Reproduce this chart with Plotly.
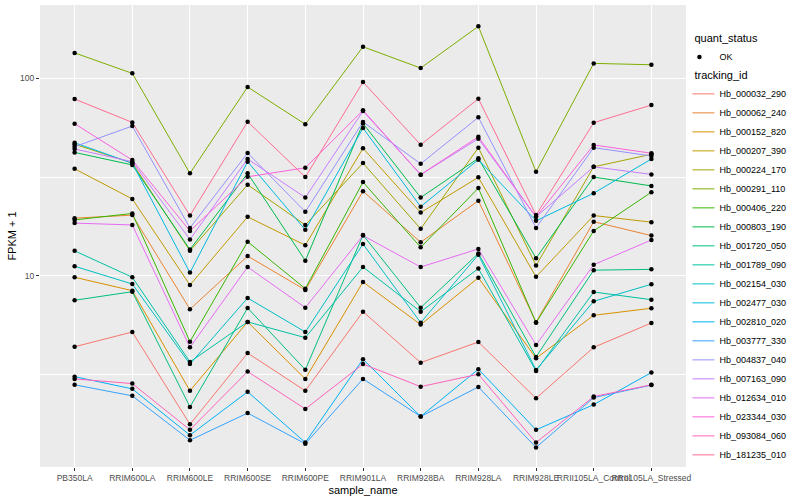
import plotly.graph_objects as go

samples = ["PB350LA", "RRIM600LA", "RRIM600LE", "RRIM600SE", "RRIM600PE", "RRIM901LA",
           "RRIM928BA", "RRIM928LA", "RRIM928LE", "RRII105LA_Control", "RRII105LA_Stressed"]

tracking_ids = ["Hb_000032_290", "Hb_000062_240", "Hb_000152_820", "Hb_000207_390", "Hb_000224_170",
                "Hb_000291_110", "Hb_000406_220", "Hb_000803_190", "Hb_001720_050", "Hb_001789_090",
                "Hb_002154_030", "Hb_002477_030", "Hb_002810_020", "Hb_003777_330", "Hb_004837_040",
                "Hb_007163_090", "Hb_012634_010", "Hb_023344_030", "Hb_093084_060", "Hb_181235_010"]

hb_000032_290 = [4.39, 5.21, 1.78, 4.08, 2.63, 6.60, 3.65, 4.64, 2.41, 4.36, 5.79]
hb_000062_240 = [19.6, 20.3, 6.79, 12.6, 8.50, 26.8, 14.8, 24.0, 5.84, 18.8, 16.0]
hb_000152_820 = [9.85, 8.43, 2.63, 5.86, 3.02, 9.33, 5.68, 9.80, 3.84, 6.33, 6.87]
hb_000207_390 = [34.8, 24.5, 9.0, 19.9, 14.3, 44.2, 20.9, 31.5, 9.9, 20.2, 18.7]
hb_000224_170 = [46.3, 37.2, 13.4, 28.9, 18.1, 37.2, 17.3, 44.5, 11.3, 35.6, 41.2]
hb_000291_110 = [134.0, 105.6, 33.0, 90.1, 58.4, 143.9, 112.3, 182.4, 33.6, 118.6, 116.7]
hb_000406_220 = [19.2, 20.7, 4.66, 14.9, 8.63, 29.8, 13.96, 27.8, 5.81, 16.9, 26.5]
hb_000803_190 = [42.1, 36.4, 13.6, 33.0, 11.95, 59.0, 24.9, 39.3, 12.3, 31.6, 28.5]
hb_001720_050 = [7.54, 8.33, 2.18, 6.89, 3.36, 16.1, 6.92, 13.0, 3.90, 10.7, 10.8]
hb_001789_090 = [13.4, 9.85, 3.68, 5.86, 4.88, 11.1, 6.60, 10.9, 3.31, 8.30, 7.59]
hb_002154_030 = [11.2, 9.11, 3.59, 7.74, 5.21, 14.5, 5.81, 12.8, 3.35, 7.45, 9.08]
hb_002477_030 = [47.1, 37.1, 10.4, 37.8, 17.1, 55.9, 22.4, 38.7, 19.0, 26.2, 39.0]
hb_002810_020 = [3.10, 2.69, 1.57, 2.60, 1.44, 3.80, 1.95, 3.38, 1.67, 2.24, 3.25]
hb_003777_330 = [2.82, 2.48, 1.48, 2.03, 1.42, 3.02, 1.95, 2.75, 1.36, 2.43, 2.81]
hb_004837_040 = [45.0, 57.2, 17.5, 41.8, 21.1, 60.0, 36.9, 63.3, 17.5, 44.5, 40.4]
hb_007163_090 = [43.8, 37.8, 15.3, 39.0, 24.9, 68.1, 32.5, 49.4, 19.9, 35.6, 32.6]
hb_012634_010 = [18.5, 18.1, 4.36, 11.1, 6.92, 16.0, 11.1, 13.7, 4.48, 11.4, 15.2]
hb_023344_030 = [58.8, 38.5, 16.9, 31.7, 35.2, 68.7, 32.5, 50.5, 19.9, 45.9, 41.7]
hb_093084_060 = [3.02, 2.86, 1.67, 3.29, 2.13, 3.59, 2.76, 3.19, 1.44, 2.46, 2.82]
hb_181235_010 = [78.3, 59.7, 20.2, 60.2, 31.6, 95.5, 46.0, 78.6, 20.3, 59.5, 73.0]

series = [hb_000032_290, hb_000062_240, hb_000152_820, hb_000207_390, hb_000224_170,
          hb_000291_110, hb_000406_220, hb_000803_190, hb_001720_050, hb_001789_090,
          hb_002154_030, hb_002477_030, hb_002810_020, hb_003777_330, hb_004837_040,
          hb_007163_090, hb_012634_010, hb_023344_030, hb_093084_060, hb_181235_010]

colors = ["#F8766D", "#EA8331", "#D89000", "#C09B00", "#A3A500", "#7CAE00", "#39B600", "#00BB4E",
          "#00BF7D", "#00C1A3", "#00BFC4", "#00BAE0", "#00B0F6", "#35A2FF", "#9590FF", "#C77CFF",
          "#E76BF3", "#FA62DB", "#FF62BC", "#FF6C91"]

FONT = "Liberation Sans, Arial, sans-serif"

fig = go.Figure()
for name, vals, col in zip(tracking_ids, series, colors):
    fig.add_trace(go.Scatter(x=samples, y=vals, mode="lines", name=name,
                             line=dict(color=col, width=1), legend="legend2"))

all_x = [s for vals in series for s in samples]
all_y = [v for vals in series for v in vals]
fig.add_trace(go.Scatter(x=all_x, y=all_y, mode="markers", name="OK",
                         marker=dict(color="black", size=4.5), legend="legend",
                         showlegend=True))

fig.update_layout(
    width=800, height=500,
    margin=dict(l=40, r=114, t=5, b=33, autoexpand=False),
    paper_bgcolor="white", plot_bgcolor="#EBEBEB",
    font=dict(family=FONT, size=9, color="#000000"),
    showlegend=True,
    legend=dict(title=dict(text="quant_status", font=dict(size=11)),
                x=1.01, xanchor="left", y=0.95, yanchor="top", indentation=-13,
                font=dict(size=9), bgcolor="rgba(0,0,0,0)", itemwidth=30),
    legend2=dict(title=dict(text="tracking_id", font=dict(size=11)),
                 x=1.01, xanchor="left", y=0.87, yanchor="top", indentation=-13,
                 font=dict(size=9), bgcolor="rgba(0,0,0,0)", itemwidth=30),
)

fig.update_xaxes(type="category", categoryorder="array", categoryarray=samples,
                 range=[-0.6, 10.6], showgrid=True, gridcolor="white", gridwidth=1,
                 ticks="outside", ticklen=3, tickcolor="#333333", tickangle=0,
                 tickfont=dict(size=8.5, color="#4D4D4D"), zeroline=False, showline=False,
                 title=dict(text="sample_name", font=dict(size=11), standoff=4), automargin=False)
fig.update_yaxes(type="log", range=[0.035, 2.369], tickvals=[10, 100], ticktext=["10", "100"],
                 showgrid=True, gridcolor="white", gridwidth=1,
                 minor=dict(tickvals=[3.1623, 31.623], showgrid=True, gridcolor="white", gridwidth=0.5, ticks=""),
                 ticks="outside", ticklen=3, tickcolor="#333333",
                 tickfont=dict(size=8.5, color="#4D4D4D"), zeroline=False, showline=False,
                 title=dict(text="FPKM + 1", font=dict(size=11), standoff=1), automargin=False)

fig.write_html("out.html", config={"displayModeBar": False},
               post_script="document.body.style.margin='0';")
